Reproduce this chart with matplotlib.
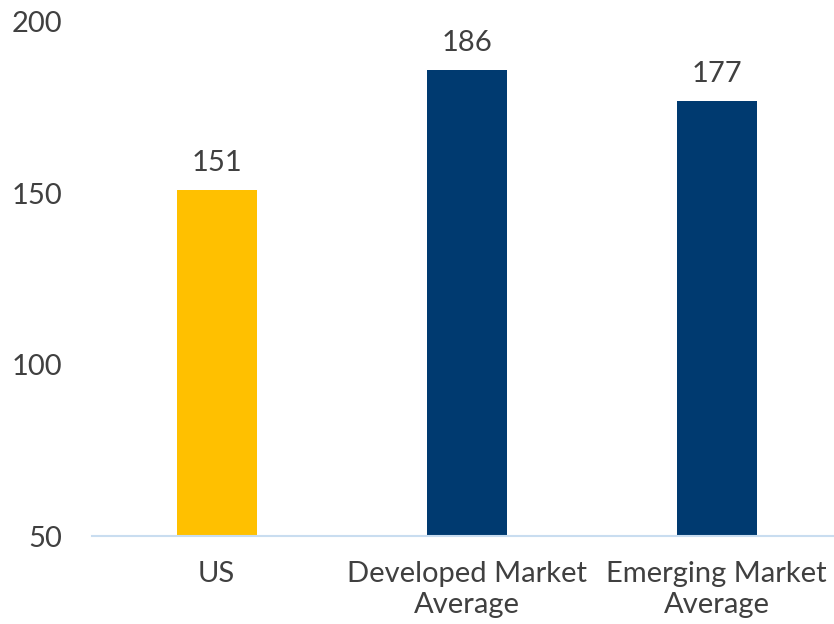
import matplotlib.pyplot as plt

categories = ['US', 'Developed Market\nAverage', 'Emerging Market\nAverage']
values = [151, 186, 177]
colors = ['#FFC000', '#003A70', '#003A70']

plt.rcParams['font.family'] = ['Lato', 'DejaVu Sans']
text_color = '#404040'

fig = plt.figure(figsize=(8.34, 6.24), dpi=100)
ax = fig.add_axes([0.110, 0.141, 0.890, 0.824])

x = range(len(categories))
bars = ax.bar(x, values, width=0.32, color=colors, zorder=2)

for b, v in zip(bars, values):
    ax.text(b.get_x() + b.get_width() / 2, v + 4, str(v), ha='center', va='bottom',
            fontsize=21, color=text_color)

ax.set_ylim(50, 200)
ax.set_xlim(-0.5, 2.47)
ax.set_yticks([50, 100, 150, 200])
ax.set_xticks(list(x))
ax.set_xticklabels(categories, linespacing=1.25)
ax.tick_params(axis='both', length=0, labelsize=21, labelcolor=text_color)
ax.tick_params(axis='y', pad=21)
ax.tick_params(axis='x', pad=18)

for s in ['top', 'right', 'left']:
    ax.spines[s].set_visible(False)
ax.spines['bottom'].set_color('#C9DDF0')
ax.spines['bottom'].set_linewidth(1.5)

fig.savefig('out.png', dpi=100)
